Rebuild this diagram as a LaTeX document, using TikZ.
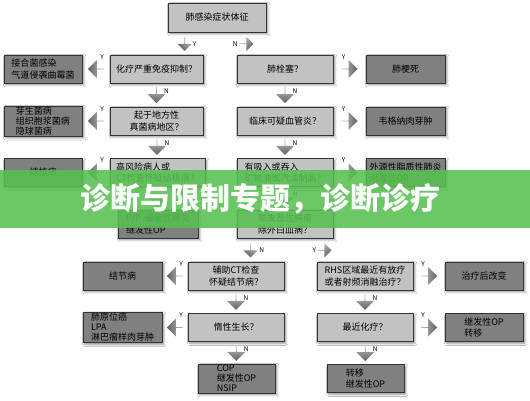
\documentclass[tikz,border=0pt]{standalone}
\usepackage{fontspec}
\setmainfont{Noto Sans CJK SC}
\usetikzlibrary{shapes.arrows,shadows.blur,calc}
\definecolor{bannergreen}{RGB}{88,192,82}
\begin{document}
\begin{tikzpicture}[x=1pt,y=-1pt,
  box/.style={draw=black!80, line width=0.6pt, minimum height=28pt, inner sep=1pt,
    align=left, font=\fontsize{9}{11.5}\selectfont,
    blur shadow={shadow xshift=1.8pt, shadow yshift=-1.8pt, shadow blur steps=6, shadow opacity=45}},
  qbox/.style={box, fill=black!24},
  rbox/.style={box, fill=black!50},
  tight/.style={font=\fontsize{9}{10}\selectfont},
  arr/.style={single arrow, single arrow head extend=4.5pt, minimum width=18pt,
    minimum height=16pt, inner sep=0pt, draw=none, top color=black!25, bottom color=black!62},
  darr/.style={arr, minimum width=14pt, minimum height=14pt, single arrow head extend=3.5pt},
  lbl/.style={font=\fontsize{6.5}{7}\selectfont, inner sep=0pt},
  bantext/.style={font=\fontsize{30}{31}\selectfont\bfseries, text=white, inner sep=0pt}
]
\useasboundingbox (0,0) rectangle (530,400);
\fill[white] (0,0) rectangle (530,400);

% ---- boxes
\node[qbox, minimum width=98pt, minimum height=29pt] (top) at (217,17.5) {肺感染症状体征};

\node[rbox, minimum width=78pt] (L1) at (43,69) {接合菌感染\\气道侵袭曲霉菌};
\node[qbox, minimum width=93pt] (C1) at (156.5,69) {化疗严重免疫抑制？};
\node[qbox, minimum width=96pt] (R1) at (285,69) {肺栓塞？};
\node[rbox, minimum width=79pt] (RR1) at (405.5,69) {肺梗死};

\node[rbox, tight, minimum width=78pt] (L2) at (43,121) {芽生菌病\\组织胞浆菌病\\隐球菌病};
\node[qbox, align=center, minimum width=93pt] (C2) at (156.5,121) {起于地方性\\真菌病地区？};
\node[qbox, minimum width=96pt] (R2) at (285,121) {临床可疑血管炎？};
\node[rbox, minimum width=79pt] (RR2) at (405.5,121) {韦格纳肉芽肿};

\node[rbox, minimum width=78pt] (L3) at (43,172.5) {结核病};
\node[qbox, minimum width=95pt] (C3) at (157.5,172.5) {高风险病人或\\CT检查怀疑结核病？};
\node[qbox, minimum width=96pt] (R3) at (285,172.5) {有吸入或吞入\\矿物油或汽油制品？};
\node[rbox, minimum width=79pt] (RR3) at (405.5,172.5) {外源性脂质性肺炎\\继发性OP};

\node[rbox, minimum width=80pt] (C4) at (158,224) {PJP\ \ 细菌性肺炎\\继发性OP};
\node[qbox, minimum width=96pt] (R4) at (285,224) {原发恶性肿瘤\\除外白血病？};

\node[rbox, minimum width=79pt] (L5) at (122.5,276) {结节病};
\node[qbox, align=center, minimum width=96pt] (C5) at (236,276) {辅助CT检查\\怀疑结节病？};
\node[qbox, align=center, minimum width=96pt] (R5) at (365,276) {RHS区域最近有放疗\\或者射频消融治疗？};
\node[rbox, minimum width=78pt] (RR5) at (484,276) {治疗后改变};

\node[rbox, tight, minimum width=79pt] (L6) at (122.5,327.5) {肺原位癌\\LPA\\淋巴瘤样肉芽肿};
\node[qbox, minimum width=96pt] (C6) at (236,327.5) {惰性生长？};
\node[qbox, minimum width=96pt] (R6) at (365,327.5) {最近化疗？};
\node[rbox, minimum width=78pt] (RR6) at (484,327.5) {继发性OP\\转移};

\node[rbox, tight, minimum width=77pt] (C7) at (236.5,378.5) {COP\\继发性OP\\NSIP};
\node[rbox, minimum width=77pt] (R7) at (365.5,378.5) {转移\\继发性OP};

% ---- diagonal arrows from the top box
\node[darr, shape border rotate=225, shading angle=315] (aTY) at ($(top.south west)+(17,11.5)$) {};
\node[lbl] (lTY) at ($(aTY)+(10,0)$) {Y};
\node[darr, shape border rotate=315, shading angle=45] (aTN) at ($(top.south east)+(-20,11.5)$) {};
\node[lbl] (lTN) at ($(aTN)+(-11,0)$) {N};

% ---- left arrows (Y)
\foreach \a/\b/\n in {L1/C1/1, L2/C2/2, L3/C3/3, L5/C5/5, L6/C6/6}{
  \node[arr, shape border rotate=180, shading angle=270] (aL\n) at ($(\a.east)!.5!(\b.west)$) {};
  \node[lbl] (lL\n) at ($(aL\n)+(6,-12)$) {Y};
}
% ---- right arrows (Y)
\foreach \a/\b/\n in {R1/RR1/1, R2/RR2/2, R3/RR3/3, R5/RR5/5, R6/RR6/6}{
  \node[arr, shape border rotate=0, shading angle=90] (aR\n) at ($(\a.east)!.5!(\b.west)$) {};
  \node[lbl] (lR\n) at ($(aR\n)+(-6,-12)$) {Y};
}
% ---- down arrows (N)
\foreach \a/\b/\n in {C1/C2/1, C2/C3/2, R1/R2/4, R2/R3/5, R3/R4/6, C5/C6/7, C6/C7/8, R5/R6/9, R6/R7/10}{
  \node[arr, shape border rotate=270, shading angle=0] (aD\n) at ($(\a.south)!.5!(\b.north)$) {};
  \node[lbl] (lD\n) at ($(aD\n)+(10,-4)$) {N};
}
% arrow whose label the banner hides
\node[arr, shape border rotate=270, shading angle=0] (aD3) at ($(C3.south)!.5!(C4.north)$) {};

% ---- diagonal arrows below R4
\node[darr, shape border rotate=225, shading angle=315] (aPN) at ($(R4.south west)+(14,12)$) {};
\node[lbl] (lPN) at ($(aPN)+(11,0)$) {N};
\node[darr, shape border rotate=315, shading angle=45] (aPY) at ($(R4.south east)+(-9,12)$) {};
\node[lbl] (lPY) at ($(aPY)+(-10,0)$) {Y};

% ---- banner
\fill[bannergreen, opacity=0.88] (0,170) rectangle (530,228);
\node[bantext] (ban) at (260,199) {诊断与限制专题，诊断诊疗};
\end{tikzpicture}
\end{document}
